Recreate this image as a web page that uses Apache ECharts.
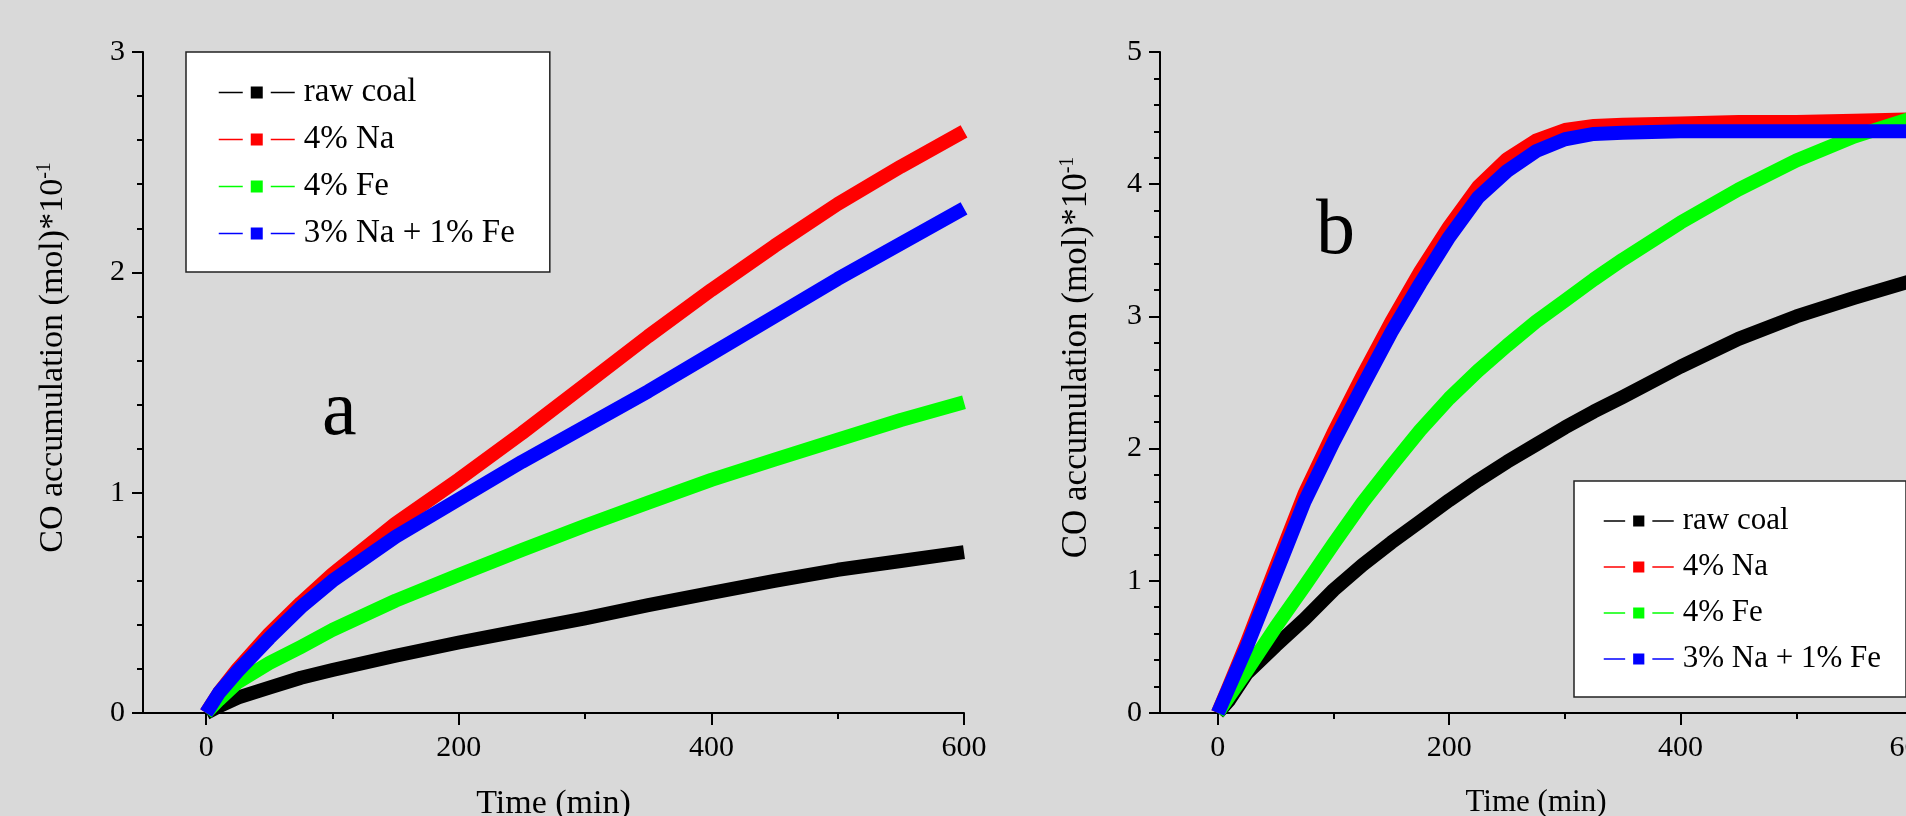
<!DOCTYPE html>
<html><head><meta charset="utf-8">
<script src="https://cdn.jsdelivr.net/npm/echarts@6/dist/echarts.min.js"></script>
<style>html,body{margin:0;padding:0;background:#d9d9d9;} #c{width:1906px;height:816px;}</style>
</head><body><div id="c"></div>
<script>
// ---- data ----
const seriesNames = ['raw coal', '4% Na', '4% Fe', '3% Na + 1% Fe'];
const seriesColors = ['#000000', '#ff0000', '#00ff00', '#0000ff'];
const panelLabels = ['a', 'b'];
const xTickLabels = [0, 200, 400, 600];
const xMinorTicks = [100, 300, 500];
const xAxisTitle = 'Time (min)';
const yAxisTitle = '{t|CO accumulation (mol)*10}{s|-1}';

// panel a
const timeA = [0, 10, 25, 50, 75, 100, 150, 200, 250, 300, 350, 400, 450, 500, 550, 600];
const rawCoalA = [0, 0.03, 0.07, 0.115, 0.16, 0.195, 0.26, 0.32, 0.375, 0.43, 0.49, 0.545, 0.60, 0.65, 0.69, 0.73];
const naA      = [0, 0.09, 0.20, 0.36, 0.50, 0.63, 0.86, 1.06, 1.27, 1.49, 1.71, 1.92, 2.12, 2.31, 2.48, 2.64];
const feA      = [0, 0.06, 0.14, 0.227, 0.30, 0.377, 0.51, 0.626, 0.74, 0.85, 0.955, 1.058, 1.15, 1.24, 1.33, 1.41];
const naFeA    = [0, 0.09, 0.19, 0.34, 0.48, 0.60, 0.80, 0.97, 1.14, 1.30, 1.46, 1.63, 1.80, 1.97, 2.13, 2.29];

// panel b
const timeB = [0, 10, 25, 50, 75, 100, 125, 150, 175, 200, 225, 250, 275, 300, 325, 350, 400, 450, 500, 550, 600];
const rawCoalB = [0, 0.10, 0.30, 0.51, 0.71, 0.93, 1.12, 1.29, 1.45, 1.61, 1.76, 1.90, 2.03, 2.16, 2.28, 2.39, 2.62, 2.83, 3.00, 3.14, 3.27];
const naB      = [0, 0.21, 0.53, 1.10, 1.66, 2.12, 2.55, 2.96, 3.34, 3.68, 3.98, 4.19, 4.33, 4.41, 4.44, 4.45, 4.46, 4.47, 4.47, 4.48, 4.49];
const feB      = [0, 0.13, 0.32, 0.65, 0.96, 1.28, 1.59, 1.87, 2.14, 2.38, 2.59, 2.78, 2.96, 3.12, 3.28, 3.43, 3.71, 3.96, 4.18, 4.36, 4.50];
const naFeB    = [0, 0.20, 0.50, 1.05, 1.60, 2.05, 2.47, 2.88, 3.25, 3.60, 3.90, 4.10, 4.25, 4.34, 4.38, 4.39, 4.40, 4.40, 4.40, 4.40, 4.40];

// ---- chart ----
const FONT = '"Liberation Serif", "Times New Roman", serif';
const chart = echarts.init(document.getElementById('c'), null, {renderer: 'canvas'});

function pairs(t, v) { return t.map((x, i) => [x, v[i]]); }

function xAxes(gridIndex, titleSize) {
  return [{
    type: 'value', gridIndex, min: -50, max: 600, position: 'bottom',
    axisLine: {show: true, onZero: false, lineStyle: {color: '#000', width: 2}},
    axisTick: {show: true, customValues: xTickLabels, length: 12, lineStyle: {color: '#000', width: 2}},
    axisLabel: {show: true, customValues: xTickLabels, color: '#000', fontFamily: FONT, fontSize: 30, margin: 20},
    splitLine: {show: false},
    name: xAxisTitle, nameLocation: 'middle', nameGap: 74,
    nameTextStyle: {color: '#000', fontFamily: FONT, fontSize: titleSize}
  }, {
    type: 'value', gridIndex, min: -50, max: 600, position: 'bottom',
    axisLine: {show: false, onZero: false},
    axisTick: {show: true, customValues: xMinorTicks, length: 6, lineStyle: {color: '#000', width: 2}},
    axisLabel: {show: false},
    splitLine: {show: false}
  }];
}

function yAxis(gridIndex, max, gap, titleSize) {
  return {
    type: 'value', gridIndex, min: 0, max, interval: 1,
    axisLine: {show: true, onZero: false, lineStyle: {color: '#000', width: 2}},
    axisTick: {show: true, length: 11, lineStyle: {color: '#000', width: 2}},
    minorTick: {show: true, splitNumber: 5, length: 6, lineStyle: {color: '#000', width: 2}},
    splitLine: {show: false}, minorSplitLine: {show: false},
    axisLabel: {color: '#000', fontFamily: FONT, fontSize: 30, margin: 18},
    name: yAxisTitle, nameLocation: 'middle', nameRotate: 90, nameGap: gap,
    nameTextStyle: {
      color: '#000', fontFamily: FONT, padding: [0, 0, 0, 50],
      rich: {
        t: {fontSize: titleSize, fontFamily: FONT, color: '#000', lineHeight: titleSize + 2},
        s: {fontSize: 20, fontFamily: FONT, color: '#000', lineHeight: 20, verticalAlign: 'top'}
      }
    }
  };
}

function lineSeries(name, color, data, xi, yi) {
  return {
    type: 'line', name, data, xAxisIndex: xi, yAxisIndex: yi,
    symbol: 'rect', showSymbol: false, smooth: false,
    color, lineStyle: {color, width: 14, cap: 'butt', join: 'round'},
    itemStyle: {color}, animation: false, silent: true
  };
}

function legend(left, top, itemWidth, itemHeight, fontSize, padding) {
  return {
    show: true, orient: 'vertical', left, top, data: seriesNames,
    itemWidth, itemHeight, itemGap: 14, selectedMode: false,
    backgroundColor: '#ffffff', borderColor: '#222', borderWidth: 1.5, borderRadius: 0,
    padding,
    textStyle: {fontFamily: FONT, fontSize, color: '#000', lineHeight: 32, padding: [0, 0, 0, 4]},
    lineStyle: {width: 1.5},
    itemStyle: {borderColor: '#ffffff', borderWidth: 8}
  };
}

const series = [];
const dataA = [rawCoalA, naA, feA, naFeA];
const dataB = [rawCoalB, naB, feB, naFeB];
seriesNames.forEach((n, i) => series.push(lineSeries(n, seriesColors[i], pairs(timeA, dataA[i]), 0, 0)));
seriesNames.forEach((n, i) => series.push(lineSeries(n, seriesColors[i], pairs(timeB, dataB[i]), 2, 1)));

chart.setOption({
  backgroundColor: '#d9d9d9',
  animation: false,
  grid: [
    {left: 143, top: 52, right: 942, bottom: 103, containLabel: false, outerBoundsMode: 'none'},
    {left: 1160, top: 52, right: -6, bottom: 103, containLabel: false, outerBoundsMode: 'none'}
  ],
  xAxis: [...xAxes(0, 34), ...xAxes(1, 31)],
  yAxis: [yAxis(0, 3, 72, 34), yAxis(1, 5, 65, 35)],
  legend: [
    legend(186, 52, 76, 25, 33, [24, 35, 22, 32]),
    legend(1574, 481, 70, 24, 31, [24, 25, 22, 29])
  ],
  series,
  graphic: [
    {type: 'text', left: 322, top: 375, z: 100,
     style: {text: panelLabels[0], font: '78px ' + FONT, fill: '#000'}},
    {type: 'text', left: 1316, top: 194, z: 100,
     style: {text: panelLabels[1], font: '78px ' + FONT, fill: '#000'}}
  ]
});
</script>
</body></html>
